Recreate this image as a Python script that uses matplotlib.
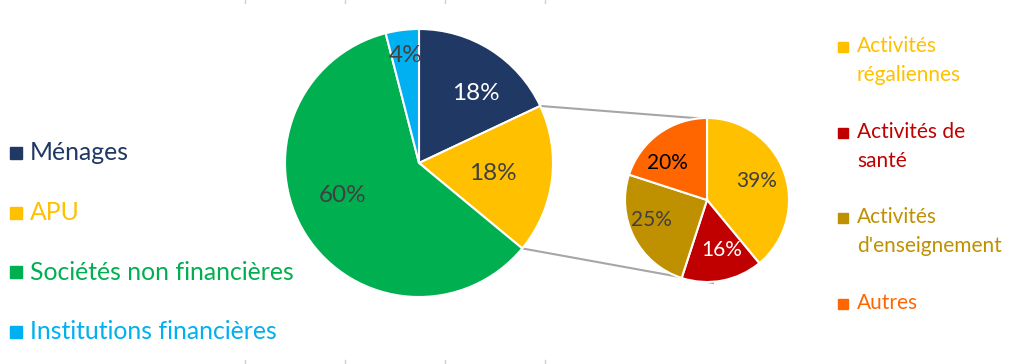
import matplotlib.pyplot as plt
from matplotlib.patches import Rectangle
import numpy as np

plt.rcParams['font.family'] = ['Lato', 'DejaVu Sans']

# main pie
secteurs = ['Ménages', 'APU', 'Sociétés non financières', 'Institutions financières']
parts = [18, 18, 60, 4]
couleurs = ['#203864', '#FFC000', '#00B050', '#00B0F0']

# detail of APU
activites = ['Activités\nrégaliennes', 'Activités de\nsanté', 'Activités\nd\'enseignement', 'Autres']
parts_apu = [39, 16, 25, 20]
couleurs_apu = ['#FFC000', '#C00000', '#BF9000', '#FF6600']

W, H = 1024, 364
fig = plt.figure(figsize=(W/100, H/100), dpi=100)
ax = fig.add_axes([0, 0, 1, 1])

c1, r1 = (419, H-163), 134
c2, r2 = (707, H-200), 82

w1, t1, a1 = ax.pie(parts, colors=couleurs, startangle=90, counterclock=False,
                    center=c1, radius=r1, autopct='%d%%', pctdistance=0.65,
                    wedgeprops=dict(edgecolor='white', linewidth=1.5),
                    textprops=dict(fontsize=17.5))
w2, t2, a2 = ax.pie(parts_apu, colors=couleurs_apu, startangle=90, counterclock=False,
                    center=c2, radius=r2, autopct='%d%%', pctdistance=0.65,
                    wedgeprops=dict(edgecolor='white', linewidth=1.5),
                    textprops=dict(fontsize=15))

# label placement (radius fraction, angle offset)
def place(wedges, texts, c, r, fr, dang, cols):
    for w, t, f, d, col in zip(wedges, texts, fr, dang, cols):
        ang = np.deg2rad((w.theta1 + w.theta2) / 2 + d)
        t.set_position((c[0] + f*r*np.cos(ang), c[1] + f*r*np.sin(ang)))
        t.set_color(col)

place(w1, a1, c1, r1, [0.67, 0.56, 0.62, 0.81], [-7, -1, -9, 0],
      ['white', '#404040', '#404040', '#404040'])
place(w2, a2, c2, r2, [0.65, 0.64, 0.72, 0.66], [1, 6, -7, 11],
      ['#404040', 'white', '#404040', 'black'])

# connector lines
apu = w1[1]
for th, y2 in [(apu.theta2, c2[1] + r2 - 1), (apu.theta1, c2[1] - r2 - 1)]:
    x1 = c1[0] + r1*np.cos(np.deg2rad(th))
    y1 = c1[1] + r1*np.sin(np.deg2rad(th))
    ax.plot([x1, c2[0] + (0 if y2 > c2[1] else 6)], [y1, y2], color='#A6A6A6', lw=1.5, zorder=0)

# left legend
for i, (lab, col) in enumerate(zip(secteurs, couleurs)):
    y = H - (153 + i*59.5)
    ax.add_patch(Rectangle((10, y-6), 12, 12, color=col))
    ax.text(30, y, lab, color=col, fontsize=17.8, va='center', ha='left')

# right legend
ys = [47, 133, 218, 304]
for lab, col, y in zip(activites, couleurs_apu, ys):
    ax.add_patch(Rectangle((838, H-y-5), 10, 10, color=col))
    ax.text(857, H-y+11, lab, color=col, fontsize=15, va='top', ha='left', linespacing=1.55)

# faint tick marks from the frame
for x in [245, 345, 445, 545]:
    ax.plot([x, x], [H-3, H], color='#D0D0D0', lw=1)
    ax.plot([x, x], [0, 4], color='#D0D0D0', lw=1)

ax.set_xlim(0, W)
ax.set_ylim(0, H)
ax.set_aspect('equal')
ax.axis('off')

fig.savefig('out.png', dpi=100)
